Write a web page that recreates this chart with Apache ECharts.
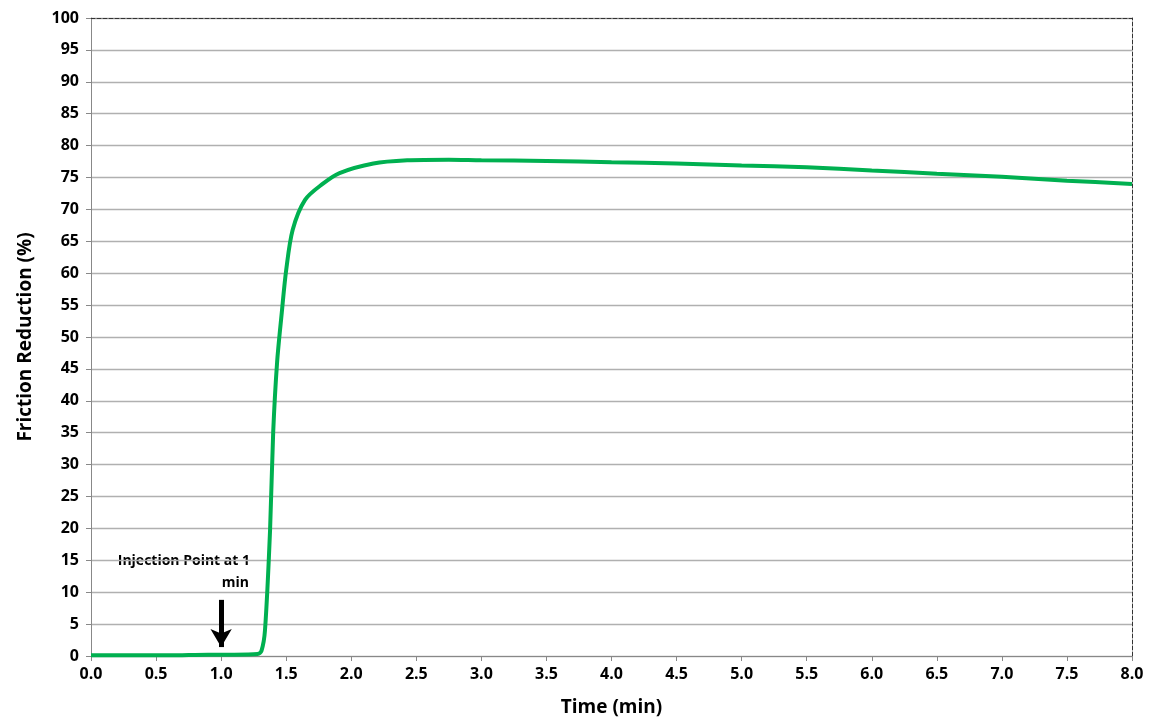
<!DOCTYPE html>
<html>
<head>
<meta charset="utf-8">
<script src="https://cdn.jsdelivr.net/npm/echarts@6/dist/echarts.min.js"></script>
<style>html,body{margin:0;padding:0;background:#fff}#chart{width:1153px;height:727px}</style>
</head>
<body>
<div id="chart"></div>
<script>
const timeMin = [0, 0.3, 0.6, 0.9, 1.1, 1.28, 1.31, 1.337, 1.376, 1.40, 1.43, 1.466, 1.50, 1.55, 1.645, 1.78, 1.91, 2.17, 2.43, 2.75, 3.0, 3.5, 4.0, 4.5, 5.0, 5.5, 6.0, 6.5, 7.0, 7.5, 8.0];
const frictionReduction = [0.1, 0.1, 0.1, 0.2, 0.2, 0.3, 0.8, 4, 19.7, 35, 46, 53.8, 60.5, 66.8, 71.5, 74, 75.7, 77.2, 77.7, 77.8, 77.7, 77.6, 77.4, 77.2, 76.9, 76.6, 76.1, 75.6, 75.1, 74.5, 74.0];
const annotationLines = ['Injection Point at 1', 'min'];

const chart = echarts.init(document.getElementById('chart'));
const font = '"Open Sans", "Liberation Sans", sans-serif';
const tickLabel = { color: '#000', fontWeight: 'bold', fontSize: 16, fontFamily: font };
const dashedEdge = { show: true, onZero: false, lineStyle: { color: '#333', type: 'dashed' } };

chart.setOption({
  animation: false,
  grid: { left: 91, right: 21, top: 18, bottom: 71 },
  xAxis: [
    {
      type: 'value', min: 0, max: 8, interval: 0.5,
      name: 'Time (min)', nameLocation: 'middle', nameGap: 42,
      nameTextStyle: { color: '#000', fontWeight: 'bold', fontSize: 19, fontFamily: font },
      axisLabel: Object.assign({ formatter: v => v.toFixed(1), margin: 10 }, tickLabel),
      axisLine: { show: true, onZero: false, lineStyle: { color: '#888' } },
      axisTick: { show: true, lineStyle: { color: '#888' } },
      splitLine: { show: false }
    },
    {
      type: 'value', position: 'top', min: 0, max: 8,
      axisLabel: { show: false }, axisTick: { show: false }, splitLine: { show: false },
      axisLine: dashedEdge
    }
  ],
  yAxis: [
    {
      type: 'value', min: 0, max: 100, interval: 5,
      name: 'Friction Reduction (%)', nameLocation: 'middle', nameGap: 56,
      nameTextStyle: { color: '#000', fontWeight: 'bold', fontSize: 19, fontFamily: font },
      axisLabel: Object.assign({ margin: 12 }, tickLabel),
      axisLine: { show: true, onZero: false, lineStyle: { color: '#888' } },
      axisTick: { show: true, lineStyle: { color: '#888' } },
      splitLine: { lineStyle: { color: '#b0b0b0', width: 1.3 } }
    },
    {
      type: 'value', position: 'right', min: 0, max: 100,
      axisLabel: { show: false }, axisTick: { show: false }, splitLine: { show: false },
      axisLine: dashedEdge
    }
  ],
  series: [
    {
      type: 'line',
      data: timeMin.map((t, i) => [t, frictionReduction[i]]),
      smooth: 0.3,
      showSymbol: false,
      lineStyle: { color: '#00b050', width: 4 },
      markLine: {
        silent: true,
        symbol: ['none', 'arrow'],
        symbolSize: [16, 18],
        label: { show: false },
        lineStyle: { color: '#000', width: 5, type: 'solid' },
        data: [[{ coord: [1.0, 8.8] }, { coord: [1.0, 1.4] }]]
      }
    }
  ],
  graphic: [
    {
      type: 'text', right: 1153 - 250, top: 554,
      style: { text: annotationLines[0], fill: '#000', font: 'bold 14px ' + font }
    },
    {
      type: 'text', right: 1153 - 249, top: 576,
      style: { text: annotationLines[1], fill: '#000', font: 'bold 14px ' + font }
    }
  ]
});
</script>
</body>
</html>
